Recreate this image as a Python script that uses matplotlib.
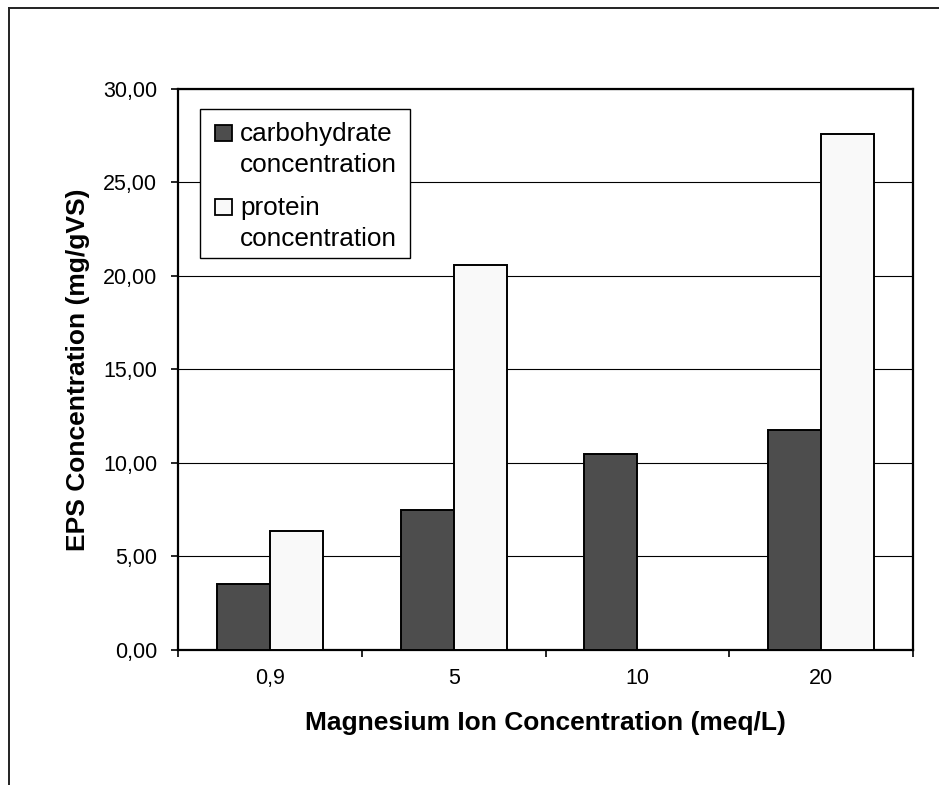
import numpy as np
import matplotlib.pyplot as plt
from matplotlib.lines import Line2D
from matplotlib.patches import Rectangle
from matplotlib.ticker import FixedLocator, FuncFormatter

plt.rcParams['font.family'] = ['Liberation Sans', 'DejaVu Sans']

magnesium = ["0,9", "5", "10", "20"]
carbohydrate = [3.54, 7.50, 10.50, 11.75]
protein = [6.37, 20.60, 0.0, 27.60]
series_labels = ["carbohydrate\nconcentration", "protein\nconcentration"]
series_colors = ["#4d4d4d", "#f9f9f9"]

fig = plt.figure(figsize=(9.39, 7.85), dpi=100)
ax = fig.add_axes([0.1896, 0.172, 0.7827, 0.7147])

x = np.arange(len(magnesium))
width = 0.288
ax.bar(x - width / 2, carbohydrate, width, color=series_colors[0], edgecolor="black",
       linewidth=1.4, zorder=3)
ax.bar(x + width / 2, protein, width, color=series_colors[1], edgecolor="black",
       linewidth=1.4, zorder=3)

ax.set_xlim(-0.5, len(magnesium) - 0.5)
ax.set_ylim(0, 30)

# category boundaries get the tick marks, centres get the labels
ax.xaxis.set_major_locator(FixedLocator(np.arange(len(magnesium) + 1) - 0.5))
ax.xaxis.set_minor_locator(FixedLocator(x))
ax.set_xticklabels([], minor=False)
ax.set_xticklabels(magnesium, minor=True)
ax.tick_params(axis="x", which="major", direction="out", length=5, width=1.2)
ax.tick_params(axis="x", which="minor", length=0, pad=13, labelsize=15.5)

ax.set_yticks(np.arange(0, 31, 5))
ax.yaxis.set_major_formatter(FuncFormatter(lambda v, _: f"{v:.2f}".replace(".", ",")))
ax.tick_params(axis="y", direction="out", length=5, width=1.2, pad=10, labelsize=15.5)

ax.grid(axis="y", color="black", linewidth=0.8, zorder=0)
for s in ax.spines.values():
    s.set_linewidth(1.6)
    s.set_color("black")

ax.set_xlabel("Magnesium Ion Concentration (meq/L)", fontsize=19, fontweight="bold")
ax.set_ylabel("EPS Concentration (mg/gVS)", fontsize=19, fontweight="bold")
ax.xaxis.set_label_coords(0.5, -0.108)
ax.yaxis.set_label_coords(-0.120, 0.5)

# legend box: square sits beside the first line of each two-line label
ax.add_patch(Rectangle((0.0299, 0.6988), 0.2857, 0.2656, transform=ax.transAxes,
                       facecolor="white", edgecolor="black", linewidth=1.0, zorder=5))
line_step = 0.0561
entry_step = 0.1319
for i, (label, color) in enumerate(zip(series_labels, series_colors)):
    base = 0.9073 - i * entry_step
    ax.add_patch(Rectangle((0.0503, base), 0.0231, 0.0285, transform=ax.transAxes,
                           facecolor=color, edgecolor="black", linewidth=1.3, zorder=6))
    for j, part in enumerate(label.split("\n")):
        ax.text(0.0848, base - j * line_step, part, transform=ax.transAxes,
                fontsize=18.8, va="baseline", ha="left", zorder=6)

# outer chart frame (open on right and bottom)
fig.add_artist(Line2D([8.5 / 939, 8.5 / 939], [0, 1 - 7.5 / 785],
                      transform=fig.transFigure, color="#222222", linewidth=1.4))
fig.add_artist(Line2D([8.5 / 939, 1], [1 - 7.5 / 785, 1 - 7.5 / 785],
                      transform=fig.transFigure, color="#222222", linewidth=1.4))

fig.savefig("out.png", dpi=100)
